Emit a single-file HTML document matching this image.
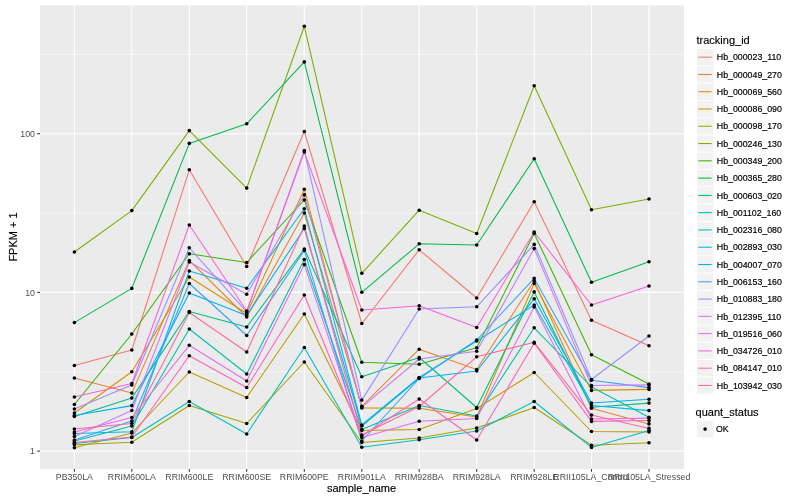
<!DOCTYPE html>
<html><head><meta charset="utf-8"><title>plot</title>
<style>
html,body{margin:0;padding:0;background:#fff;}
body{width:800px;height:500px;overflow:hidden;font-family:"Liberation Sans",sans-serif;}
svg{display:block;will-change:transform;}
text{font-family:"Liberation Sans",sans-serif;}
.ax{font-size:8.8px;fill:#4D4D4D;}
.lg{font-size:8.8px;fill:#000;stroke:#000;stroke-width:0.18px;}
.tt{font-size:11px;fill:#000;stroke:#000;stroke-width:0.15px;}
</style></head><body>
<svg width="800" height="500" viewBox="0 0 800 500">
<rect x="0" y="0" width="800" height="500" fill="#ffffff"/>
<rect x="40" y="5.48" width="644" height="463.52" fill="#EBEBEB"/>
<line x1="40" x2="684" y1="54.35" y2="54.35" stroke="#fff" stroke-width="0.53"/>
<line x1="40" x2="684" y1="213.05" y2="213.05" stroke="#fff" stroke-width="0.53"/>
<line x1="40" x2="684" y1="371.75" y2="371.75" stroke="#fff" stroke-width="0.53"/>
<line x1="40" x2="684" y1="133.7" y2="133.7" stroke="#fff" stroke-width="1.07"/>
<line x1="40" x2="684" y1="292.4" y2="292.4" stroke="#fff" stroke-width="1.07"/>
<line x1="40" x2="684" y1="451.1" y2="451.1" stroke="#fff" stroke-width="1.07"/>
<line x1="74.4" x2="74.4" y1="5.48" y2="469" stroke="#fff" stroke-width="1.07"/>
<line x1="131.8" x2="131.8" y1="5.48" y2="469" stroke="#fff" stroke-width="1.07"/>
<line x1="189.3" x2="189.3" y1="5.48" y2="469" stroke="#fff" stroke-width="1.07"/>
<line x1="246.7" x2="246.7" y1="5.48" y2="469" stroke="#fff" stroke-width="1.07"/>
<line x1="304.3" x2="304.3" y1="5.48" y2="469" stroke="#fff" stroke-width="1.07"/>
<line x1="361.8" x2="361.8" y1="5.48" y2="469" stroke="#fff" stroke-width="1.07"/>
<line x1="419.2" x2="419.2" y1="5.48" y2="469" stroke="#fff" stroke-width="1.07"/>
<line x1="476.7" x2="476.7" y1="5.48" y2="469" stroke="#fff" stroke-width="1.07"/>
<line x1="534.2" x2="534.2" y1="5.48" y2="469" stroke="#fff" stroke-width="1.07"/>
<line x1="591.5" x2="591.5" y1="5.48" y2="469" stroke="#fff" stroke-width="1.07"/>
<line x1="649.0" x2="649.0" y1="5.48" y2="469" stroke="#fff" stroke-width="1.07"/>
<g fill="none" stroke-width="1.07" stroke-linejoin="round" stroke-linecap="butt">
<polyline points="74.4,365.5 131.8,350 189.3,169.8 246.7,266.5 304.3,131.5 361.8,323.5 419.2,249.8 476.7,298 534.2,201.8 591.5,320.2 649.0,345.7" stroke="#F8766D"/>
<polyline points="74.4,378 131.8,393.1 189.3,260.5 246.7,317 304.3,213 361.8,406.3 419.2,349.2 476.7,369.5 534.2,281 591.5,408.2 649.0,423.9" stroke="#EA8331"/>
<polyline points="74.4,413 131.8,371.8 189.3,277 246.7,313.5 304.3,189.2 361.8,407.9 419.2,408.3 476.7,417 534.2,283.5 591.5,390.4 649.0,389.4" stroke="#D89000"/>
<polyline points="74.4,447.7 131.8,433 189.3,372 246.7,397.5 304.3,314 361.8,430.5 419.2,429.5 476.7,408.5 534.2,372.5 591.5,431.5 649.0,432" stroke="#C09B00"/>
<polyline points="74.4,444.8 131.8,442.2 189.3,405.5 246.7,423.5 304.3,362 361.8,442.5 419.2,438 476.7,428 534.2,407.5 591.5,445.2 649.0,442.8" stroke="#A3A500"/>
<polyline points="74.4,252.0 131.8,210.6 189.3,130.6 246.7,188.1 304.3,26.3 361.8,273.3 419.2,210.2 476.7,233.5 534.2,85.8 591.5,209.7 649.0,199" stroke="#7CAE00"/>
<polyline points="74.4,404.5 131.8,334 189.3,253.8 246.7,262.5 304.3,200 361.8,362.2 419.2,364.3 476.7,347.8 534.2,233.5 591.5,354.7 649.0,384" stroke="#39B600"/>
<polyline points="74.4,322.6 131.8,288.4 189.3,143.4 246.7,123.8 304.3,61.9 361.8,292.3 419.2,243.8 476.7,245 534.2,158.8 591.5,282.3 649.0,261.8" stroke="#00BB4E"/>
<polyline points="74.4,416.5 131.8,398.1 189.3,311.5 246.7,327 304.3,249 361.8,376.8 419.2,357.5 476.7,407.5 534.2,291.9 591.5,407.3 649.0,403.1" stroke="#00BF7D"/>
<polyline points="74.4,441 131.8,426 189.3,329 246.7,374 304.3,259.5 361.8,429.5 419.2,405.5 476.7,416 534.2,327.8 591.5,387 649.0,417.2" stroke="#00C1A3"/>
<polyline points="74.4,443.5 131.8,437.5 189.3,401.5 246.7,434 304.3,347.5 361.8,447.3 419.2,439.8 476.7,431 534.2,401.5 591.5,447.4 649.0,430.5" stroke="#00BFC4"/>
<polyline points="74.4,433.5 131.8,431.8 189.3,271 246.7,288.2 304.3,208.8 361.8,425 419.2,377.5 476.7,341 534.2,305 591.5,405.5 649.0,410.6" stroke="#00BAE0"/>
<polyline points="74.4,415.5 131.8,405.6 189.3,293 246.7,315.5 304.3,228.5 361.8,426 419.2,378 476.7,371 534.2,298.8 591.5,403 649.0,399.2" stroke="#00B0F6"/>
<polyline points="74.4,440 131.8,421 189.3,283.5 246.7,335.5 304.3,250.5 361.8,441 419.2,378.5 476.7,340 534.2,278.4 591.5,380.3 649.0,387.6" stroke="#35A2FF"/>
<polyline points="74.4,409 131.8,385 189.3,247.8 246.7,311.8 304.3,150.5 361.8,400.1 419.2,309 476.7,306.8 534.2,244.4 591.5,379.5 649.0,336" stroke="#9590FF"/>
<polyline points="74.4,436.5 131.8,410.5 189.3,262 246.7,294.3 304.3,194.9 361.8,407.1 419.2,359 476.7,351.2 534.2,248.6 591.5,385.5 649.0,384.9" stroke="#C77CFF"/>
<polyline points="74.4,432 131.8,417.5 189.3,345.3 246.7,381 304.3,264.6 361.8,437.5 419.2,421.3 476.7,418.5 534.2,307 591.5,419 649.0,418.1" stroke="#E76BF3"/>
<polyline points="74.4,397 131.8,383.5 189.3,225 246.7,311 304.3,152 361.8,310 419.2,305.8 476.7,327.5 534.2,232 591.5,305 649.0,286" stroke="#FA62DB"/>
<polyline points="74.4,442.5 131.8,437 189.3,355.7 246.7,387.5 304.3,295 361.8,436 419.2,399 476.7,440 534.2,343.3 591.5,421.4 649.0,420.5" stroke="#FF62BC"/>
<polyline points="74.4,429 131.8,423.5 189.3,312.5 246.7,352 304.3,226 361.8,435 419.2,406.5 476.7,356.8 534.2,342.3 591.5,415.1 649.0,428.4" stroke="#FF6A98"/>
</g>
<g fill="#000">
<circle cx="74.4" cy="365.5" r="1.8"/><circle cx="131.8" cy="350" r="1.8"/><circle cx="189.3" cy="169.8" r="1.8"/><circle cx="246.7" cy="266.5" r="1.8"/><circle cx="304.3" cy="131.5" r="1.8"/><circle cx="361.8" cy="323.5" r="1.8"/><circle cx="419.2" cy="249.8" r="1.8"/><circle cx="476.7" cy="298" r="1.8"/><circle cx="534.2" cy="201.8" r="1.8"/><circle cx="591.5" cy="320.2" r="1.8"/><circle cx="649.0" cy="345.7" r="1.8"/>
<circle cx="74.4" cy="378" r="1.8"/><circle cx="131.8" cy="393.1" r="1.8"/><circle cx="189.3" cy="260.5" r="1.8"/><circle cx="246.7" cy="317" r="1.8"/><circle cx="304.3" cy="213" r="1.8"/><circle cx="361.8" cy="406.3" r="1.8"/><circle cx="419.2" cy="349.2" r="1.8"/><circle cx="476.7" cy="369.5" r="1.8"/><circle cx="534.2" cy="281" r="1.8"/><circle cx="591.5" cy="408.2" r="1.8"/><circle cx="649.0" cy="423.9" r="1.8"/>
<circle cx="74.4" cy="413" r="1.8"/><circle cx="131.8" cy="371.8" r="1.8"/><circle cx="189.3" cy="277" r="1.8"/><circle cx="246.7" cy="313.5" r="1.8"/><circle cx="304.3" cy="189.2" r="1.8"/><circle cx="361.8" cy="407.9" r="1.8"/><circle cx="419.2" cy="408.3" r="1.8"/><circle cx="476.7" cy="417" r="1.8"/><circle cx="534.2" cy="283.5" r="1.8"/><circle cx="591.5" cy="390.4" r="1.8"/><circle cx="649.0" cy="389.4" r="1.8"/>
<circle cx="74.4" cy="447.7" r="1.8"/><circle cx="131.8" cy="433" r="1.8"/><circle cx="189.3" cy="372" r="1.8"/><circle cx="246.7" cy="397.5" r="1.8"/><circle cx="304.3" cy="314" r="1.8"/><circle cx="361.8" cy="430.5" r="1.8"/><circle cx="419.2" cy="429.5" r="1.8"/><circle cx="476.7" cy="408.5" r="1.8"/><circle cx="534.2" cy="372.5" r="1.8"/><circle cx="591.5" cy="431.5" r="1.8"/><circle cx="649.0" cy="432" r="1.8"/>
<circle cx="74.4" cy="444.8" r="1.8"/><circle cx="131.8" cy="442.2" r="1.8"/><circle cx="189.3" cy="405.5" r="1.8"/><circle cx="246.7" cy="423.5" r="1.8"/><circle cx="304.3" cy="362" r="1.8"/><circle cx="361.8" cy="442.5" r="1.8"/><circle cx="419.2" cy="438" r="1.8"/><circle cx="476.7" cy="428" r="1.8"/><circle cx="534.2" cy="407.5" r="1.8"/><circle cx="591.5" cy="445.2" r="1.8"/><circle cx="649.0" cy="442.8" r="1.8"/>
<circle cx="74.4" cy="252.0" r="1.8"/><circle cx="131.8" cy="210.6" r="1.8"/><circle cx="189.3" cy="130.6" r="1.8"/><circle cx="246.7" cy="188.1" r="1.8"/><circle cx="304.3" cy="26.3" r="1.8"/><circle cx="361.8" cy="273.3" r="1.8"/><circle cx="419.2" cy="210.2" r="1.8"/><circle cx="476.7" cy="233.5" r="1.8"/><circle cx="534.2" cy="85.8" r="1.8"/><circle cx="591.5" cy="209.7" r="1.8"/><circle cx="649.0" cy="199" r="1.8"/>
<circle cx="74.4" cy="404.5" r="1.8"/><circle cx="131.8" cy="334" r="1.8"/><circle cx="189.3" cy="253.8" r="1.8"/><circle cx="246.7" cy="262.5" r="1.8"/><circle cx="304.3" cy="200" r="1.8"/><circle cx="361.8" cy="362.2" r="1.8"/><circle cx="419.2" cy="364.3" r="1.8"/><circle cx="476.7" cy="347.8" r="1.8"/><circle cx="534.2" cy="233.5" r="1.8"/><circle cx="591.5" cy="354.7" r="1.8"/><circle cx="649.0" cy="384" r="1.8"/>
<circle cx="74.4" cy="322.6" r="1.8"/><circle cx="131.8" cy="288.4" r="1.8"/><circle cx="189.3" cy="143.4" r="1.8"/><circle cx="246.7" cy="123.8" r="1.8"/><circle cx="304.3" cy="61.9" r="1.8"/><circle cx="361.8" cy="292.3" r="1.8"/><circle cx="419.2" cy="243.8" r="1.8"/><circle cx="476.7" cy="245" r="1.8"/><circle cx="534.2" cy="158.8" r="1.8"/><circle cx="591.5" cy="282.3" r="1.8"/><circle cx="649.0" cy="261.8" r="1.8"/>
<circle cx="74.4" cy="416.5" r="1.8"/><circle cx="131.8" cy="398.1" r="1.8"/><circle cx="189.3" cy="311.5" r="1.8"/><circle cx="246.7" cy="327" r="1.8"/><circle cx="304.3" cy="249" r="1.8"/><circle cx="361.8" cy="376.8" r="1.8"/><circle cx="419.2" cy="357.5" r="1.8"/><circle cx="476.7" cy="407.5" r="1.8"/><circle cx="534.2" cy="291.9" r="1.8"/><circle cx="591.5" cy="407.3" r="1.8"/><circle cx="649.0" cy="403.1" r="1.8"/>
<circle cx="74.4" cy="441" r="1.8"/><circle cx="131.8" cy="426" r="1.8"/><circle cx="189.3" cy="329" r="1.8"/><circle cx="246.7" cy="374" r="1.8"/><circle cx="304.3" cy="259.5" r="1.8"/><circle cx="361.8" cy="429.5" r="1.8"/><circle cx="419.2" cy="405.5" r="1.8"/><circle cx="476.7" cy="416" r="1.8"/><circle cx="534.2" cy="327.8" r="1.8"/><circle cx="591.5" cy="387" r="1.8"/><circle cx="649.0" cy="417.2" r="1.8"/>
<circle cx="74.4" cy="443.5" r="1.8"/><circle cx="131.8" cy="437.5" r="1.8"/><circle cx="189.3" cy="401.5" r="1.8"/><circle cx="246.7" cy="434" r="1.8"/><circle cx="304.3" cy="347.5" r="1.8"/><circle cx="361.8" cy="447.3" r="1.8"/><circle cx="419.2" cy="439.8" r="1.8"/><circle cx="476.7" cy="431" r="1.8"/><circle cx="534.2" cy="401.5" r="1.8"/><circle cx="591.5" cy="447.4" r="1.8"/><circle cx="649.0" cy="430.5" r="1.8"/>
<circle cx="74.4" cy="433.5" r="1.8"/><circle cx="131.8" cy="431.8" r="1.8"/><circle cx="189.3" cy="271" r="1.8"/><circle cx="246.7" cy="288.2" r="1.8"/><circle cx="304.3" cy="208.8" r="1.8"/><circle cx="361.8" cy="425" r="1.8"/><circle cx="419.2" cy="377.5" r="1.8"/><circle cx="476.7" cy="341" r="1.8"/><circle cx="534.2" cy="305" r="1.8"/><circle cx="591.5" cy="405.5" r="1.8"/><circle cx="649.0" cy="410.6" r="1.8"/>
<circle cx="74.4" cy="415.5" r="1.8"/><circle cx="131.8" cy="405.6" r="1.8"/><circle cx="189.3" cy="293" r="1.8"/><circle cx="246.7" cy="315.5" r="1.8"/><circle cx="304.3" cy="228.5" r="1.8"/><circle cx="361.8" cy="426" r="1.8"/><circle cx="419.2" cy="378" r="1.8"/><circle cx="476.7" cy="371" r="1.8"/><circle cx="534.2" cy="298.8" r="1.8"/><circle cx="591.5" cy="403" r="1.8"/><circle cx="649.0" cy="399.2" r="1.8"/>
<circle cx="74.4" cy="440" r="1.8"/><circle cx="131.8" cy="421" r="1.8"/><circle cx="189.3" cy="283.5" r="1.8"/><circle cx="246.7" cy="335.5" r="1.8"/><circle cx="304.3" cy="250.5" r="1.8"/><circle cx="361.8" cy="441" r="1.8"/><circle cx="419.2" cy="378.5" r="1.8"/><circle cx="476.7" cy="340" r="1.8"/><circle cx="534.2" cy="278.4" r="1.8"/><circle cx="591.5" cy="380.3" r="1.8"/><circle cx="649.0" cy="387.6" r="1.8"/>
<circle cx="74.4" cy="409" r="1.8"/><circle cx="131.8" cy="385" r="1.8"/><circle cx="189.3" cy="247.8" r="1.8"/><circle cx="246.7" cy="311.8" r="1.8"/><circle cx="304.3" cy="150.5" r="1.8"/><circle cx="361.8" cy="400.1" r="1.8"/><circle cx="419.2" cy="309" r="1.8"/><circle cx="476.7" cy="306.8" r="1.8"/><circle cx="534.2" cy="244.4" r="1.8"/><circle cx="591.5" cy="379.5" r="1.8"/><circle cx="649.0" cy="336" r="1.8"/>
<circle cx="74.4" cy="436.5" r="1.8"/><circle cx="131.8" cy="410.5" r="1.8"/><circle cx="189.3" cy="262" r="1.8"/><circle cx="246.7" cy="294.3" r="1.8"/><circle cx="304.3" cy="194.9" r="1.8"/><circle cx="361.8" cy="407.1" r="1.8"/><circle cx="419.2" cy="359" r="1.8"/><circle cx="476.7" cy="351.2" r="1.8"/><circle cx="534.2" cy="248.6" r="1.8"/><circle cx="591.5" cy="385.5" r="1.8"/><circle cx="649.0" cy="384.9" r="1.8"/>
<circle cx="74.4" cy="432" r="1.8"/><circle cx="131.8" cy="417.5" r="1.8"/><circle cx="189.3" cy="345.3" r="1.8"/><circle cx="246.7" cy="381" r="1.8"/><circle cx="304.3" cy="264.6" r="1.8"/><circle cx="361.8" cy="437.5" r="1.8"/><circle cx="419.2" cy="421.3" r="1.8"/><circle cx="476.7" cy="418.5" r="1.8"/><circle cx="534.2" cy="307" r="1.8"/><circle cx="591.5" cy="419" r="1.8"/><circle cx="649.0" cy="418.1" r="1.8"/>
<circle cx="74.4" cy="397" r="1.8"/><circle cx="131.8" cy="383.5" r="1.8"/><circle cx="189.3" cy="225" r="1.8"/><circle cx="246.7" cy="311" r="1.8"/><circle cx="304.3" cy="152" r="1.8"/><circle cx="361.8" cy="310" r="1.8"/><circle cx="419.2" cy="305.8" r="1.8"/><circle cx="476.7" cy="327.5" r="1.8"/><circle cx="534.2" cy="232" r="1.8"/><circle cx="591.5" cy="305" r="1.8"/><circle cx="649.0" cy="286" r="1.8"/>
<circle cx="74.4" cy="442.5" r="1.8"/><circle cx="131.8" cy="437" r="1.8"/><circle cx="189.3" cy="355.7" r="1.8"/><circle cx="246.7" cy="387.5" r="1.8"/><circle cx="304.3" cy="295" r="1.8"/><circle cx="361.8" cy="436" r="1.8"/><circle cx="419.2" cy="399" r="1.8"/><circle cx="476.7" cy="440" r="1.8"/><circle cx="534.2" cy="343.3" r="1.8"/><circle cx="591.5" cy="421.4" r="1.8"/><circle cx="649.0" cy="420.5" r="1.8"/>
<circle cx="74.4" cy="429" r="1.8"/><circle cx="131.8" cy="423.5" r="1.8"/><circle cx="189.3" cy="312.5" r="1.8"/><circle cx="246.7" cy="352" r="1.8"/><circle cx="304.3" cy="226" r="1.8"/><circle cx="361.8" cy="435" r="1.8"/><circle cx="419.2" cy="406.5" r="1.8"/><circle cx="476.7" cy="356.8" r="1.8"/><circle cx="534.2" cy="342.3" r="1.8"/><circle cx="591.5" cy="415.1" r="1.8"/><circle cx="649.0" cy="428.4" r="1.8"/>
</g>
<g stroke="#333" stroke-width="1.07">
<line x1="74.4" x2="74.4" y1="469" y2="471.75"/><line x1="131.8" x2="131.8" y1="469" y2="471.75"/><line x1="189.3" x2="189.3" y1="469" y2="471.75"/><line x1="246.7" x2="246.7" y1="469" y2="471.75"/><line x1="304.3" x2="304.3" y1="469" y2="471.75"/><line x1="361.8" x2="361.8" y1="469" y2="471.75"/><line x1="419.2" x2="419.2" y1="469" y2="471.75"/><line x1="476.7" x2="476.7" y1="469" y2="471.75"/><line x1="534.2" x2="534.2" y1="469" y2="471.75"/><line x1="591.5" x2="591.5" y1="469" y2="471.75"/><line x1="649.0" x2="649.0" y1="469" y2="471.75"/><line x1="37.25" x2="40" y1="133.7" y2="133.7"/><line x1="37.25" x2="40" y1="292.4" y2="292.4"/><line x1="37.25" x2="40" y1="451.1" y2="451.1"/></g>
<text class="ax" x="74.4" y="480.3" text-anchor="middle">PB350LA</text>
<text class="ax" x="131.8" y="480.3" text-anchor="middle">RRIM600LA</text>
<text class="ax" x="189.3" y="480.3" text-anchor="middle">RRIM600LE</text>
<text class="ax" x="246.7" y="480.3" text-anchor="middle">RRIM600SE</text>
<text class="ax" x="304.3" y="480.3" text-anchor="middle">RRIM600PE</text>
<text class="ax" x="361.8" y="480.3" text-anchor="middle">RRIM901LA</text>
<text class="ax" x="419.2" y="480.3" text-anchor="middle">RRIM928BA</text>
<text class="ax" x="476.7" y="480.3" text-anchor="middle">RRIM928LA</text>
<text class="ax" x="534.2" y="480.3" text-anchor="middle">RRIM928LE</text>
<text class="ax" x="591.5" y="480.3" text-anchor="middle">RRII105LA_Control</text>
<text class="ax" x="649.0" y="480.3" text-anchor="middle">RRII105LA_Stressed</text>
<text class="ax" x="35" y="136.89999999999998" text-anchor="end">100</text>
<text class="ax" x="35" y="295.59999999999997" text-anchor="end">10</text>
<text class="ax" x="35" y="454.3" text-anchor="end">1</text>
<text class="tt" x="361.5" y="492.2" text-anchor="middle">sample_name</text>
<text class="tt" transform="translate(16.5,237) rotate(-90)" text-anchor="middle">FPKM + 1</text>
<text class="tt" x="696.5" y="44">tracking_id</text>
<rect x="697" y="49.00" width="16.3" height="16.3" fill="#F2F2F2"/><line x1="698.3" x2="711.7" y1="57.15" y2="57.15" stroke="#F8766D" stroke-width="1.07"/><text class="lg" x="716.8" y="60">Hb_000023_110</text>
<rect x="697" y="66.28" width="16.3" height="16.3" fill="#F2F2F2"/><line x1="698.3" x2="711.7" y1="74.43" y2="74.43" stroke="#EA8331" stroke-width="1.07"/><text class="lg" x="716.8" y="78">Hb_000049_270</text>
<rect x="697" y="83.56" width="16.3" height="16.3" fill="#F2F2F2"/><line x1="698.3" x2="711.7" y1="91.71" y2="91.71" stroke="#D89000" stroke-width="1.07"/><text class="lg" x="716.8" y="95">Hb_000069_560</text>
<rect x="697" y="100.84" width="16.3" height="16.3" fill="#F2F2F2"/><line x1="698.3" x2="711.7" y1="108.99" y2="108.99" stroke="#C09B00" stroke-width="1.07"/><text class="lg" x="716.8" y="112">Hb_000086_090</text>
<rect x="697" y="118.12" width="16.3" height="16.3" fill="#F2F2F2"/><line x1="698.3" x2="711.7" y1="126.27" y2="126.27" stroke="#A3A500" stroke-width="1.07"/><text class="lg" x="716.8" y="129">Hb_000098_170</text>
<rect x="697" y="135.40" width="16.3" height="16.3" fill="#F2F2F2"/><line x1="698.3" x2="711.7" y1="143.55" y2="143.55" stroke="#7CAE00" stroke-width="1.07"/><text class="lg" x="716.8" y="147">Hb_000246_130</text>
<rect x="697" y="152.68" width="16.3" height="16.3" fill="#F2F2F2"/><line x1="698.3" x2="711.7" y1="160.83" y2="160.83" stroke="#39B600" stroke-width="1.07"/><text class="lg" x="716.8" y="164">Hb_000349_200</text>
<rect x="697" y="169.96" width="16.3" height="16.3" fill="#F2F2F2"/><line x1="698.3" x2="711.7" y1="178.11" y2="178.11" stroke="#00BB4E" stroke-width="1.07"/><text class="lg" x="716.8" y="181">Hb_000365_280</text>
<rect x="697" y="187.24" width="16.3" height="16.3" fill="#F2F2F2"/><line x1="698.3" x2="711.7" y1="195.39" y2="195.39" stroke="#00BF7D" stroke-width="1.07"/><text class="lg" x="716.8" y="199">Hb_000603_020</text>
<rect x="697" y="204.52" width="16.3" height="16.3" fill="#F2F2F2"/><line x1="698.3" x2="711.7" y1="212.67" y2="212.67" stroke="#00C1A3" stroke-width="1.07"/><text class="lg" x="716.8" y="216">Hb_001102_160</text>
<rect x="697" y="221.80" width="16.3" height="16.3" fill="#F2F2F2"/><line x1="698.3" x2="711.7" y1="229.95" y2="229.95" stroke="#00BFC4" stroke-width="1.07"/><text class="lg" x="716.8" y="233">Hb_002316_080</text>
<rect x="697" y="239.08" width="16.3" height="16.3" fill="#F2F2F2"/><line x1="698.3" x2="711.7" y1="247.23" y2="247.23" stroke="#00BAE0" stroke-width="1.07"/><text class="lg" x="716.8" y="250">Hb_002893_030</text>
<rect x="697" y="256.36" width="16.3" height="16.3" fill="#F2F2F2"/><line x1="698.3" x2="711.7" y1="264.51" y2="264.51" stroke="#00B0F6" stroke-width="1.07"/><text class="lg" x="716.8" y="268">Hb_004007_070</text>
<rect x="697" y="273.64" width="16.3" height="16.3" fill="#F2F2F2"/><line x1="698.3" x2="711.7" y1="281.79" y2="281.79" stroke="#35A2FF" stroke-width="1.07"/><text class="lg" x="716.8" y="285">Hb_006153_160</text>
<rect x="697" y="290.92" width="16.3" height="16.3" fill="#F2F2F2"/><line x1="698.3" x2="711.7" y1="299.07" y2="299.07" stroke="#9590FF" stroke-width="1.07"/><text class="lg" x="716.8" y="302">Hb_010883_180</text>
<rect x="697" y="308.20" width="16.3" height="16.3" fill="#F2F2F2"/><line x1="698.3" x2="711.7" y1="316.35" y2="316.35" stroke="#C77CFF" stroke-width="1.07"/><text class="lg" x="716.8" y="320">Hb_012395_110</text>
<rect x="697" y="325.48" width="16.3" height="16.3" fill="#F2F2F2"/><line x1="698.3" x2="711.7" y1="333.63" y2="333.63" stroke="#E76BF3" stroke-width="1.07"/><text class="lg" x="716.8" y="337">Hb_019516_060</text>
<rect x="697" y="342.76" width="16.3" height="16.3" fill="#F2F2F2"/><line x1="698.3" x2="711.7" y1="350.91" y2="350.91" stroke="#FA62DB" stroke-width="1.07"/><text class="lg" x="716.8" y="354">Hb_034726_010</text>
<rect x="697" y="360.04" width="16.3" height="16.3" fill="#F2F2F2"/><line x1="698.3" x2="711.7" y1="368.19" y2="368.19" stroke="#FF62BC" stroke-width="1.07"/><text class="lg" x="716.8" y="371">Hb_084147_010</text>
<rect x="697" y="377.32" width="16.3" height="16.3" fill="#F2F2F2"/><line x1="698.3" x2="711.7" y1="385.47" y2="385.47" stroke="#FF6A98" stroke-width="1.07"/><text class="lg" x="716.8" y="389">Hb_103942_030</text>
<text class="tt" x="695.6" y="416">quant_status</text>
<rect x="697" y="421" width="16.3" height="16.3" fill="#F2F2F2"/><circle cx="705.1" cy="429.1" r="1.8" fill="#000"/><text class="lg" x="716" y="432">OK</text>
</svg></body></html>
